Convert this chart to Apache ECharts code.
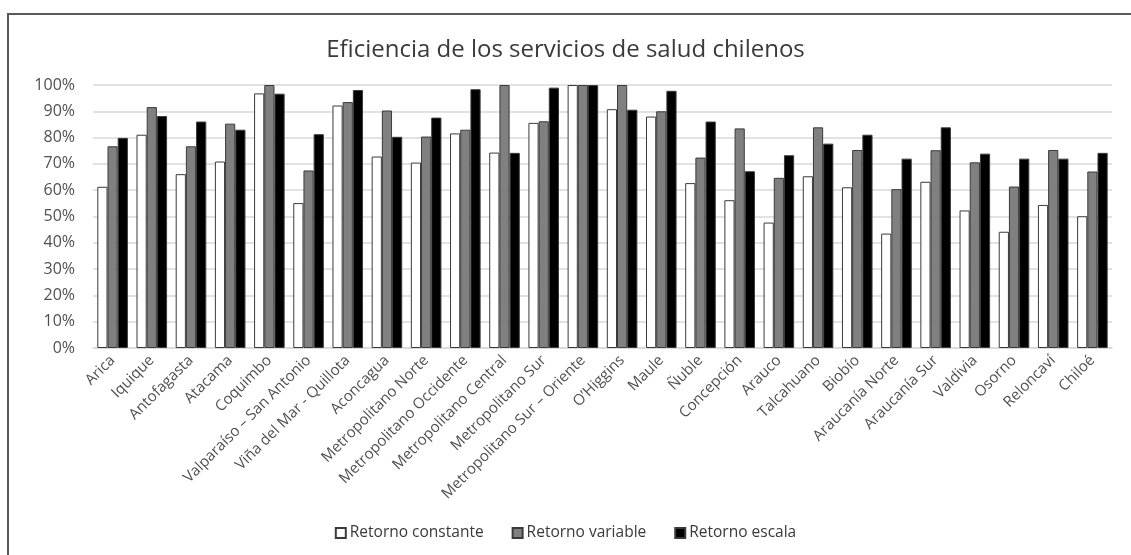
<!DOCTYPE html>
<html>
<head>
<meta charset="utf-8">
<title>Eficiencia de los servicios de salud chilenos</title>
<script src="https://cdn.jsdelivr.net/npm/echarts@6/dist/echarts.min.js"></script>
<style>
  html, body { margin: 0; padding: 0; background: #ffffff; }
  #chart { position: absolute; left: 0; top: 0; width: 1131px; height: 555px; }
  #frame {
    position: absolute; left: 7px; top: 13px; right: 0; bottom: 0;
    border-top: 2px solid #5a5a5a; border-left: 2px solid #5a5a5a;
    pointer-events: none;
  }
</style>
</head>
<body>
<div id="chart"></div>
<div id="frame"></div>
<script>
// Servicios de salud
const categories = [
  'Arica', 'Iquique', 'Antofagasta', 'Atacama', 'Coquimbo',
  'Valparaíso – San Antonio', 'Viña del Mar - Quillota', 'Aconcagua',
  'Metropolitano Norte', 'Metropolitano Occidente', 'Metropolitano Central',
  'Metropolitano Sur', 'Metropolitano Sur – Oriente', 'O’Higgins', 'Maule',
  'Ñuble', 'Concepción', 'Arauco', 'Talcahuano', 'Biobío', 'Araucanía Norte',
  'Araucanía Sur', 'Valdivia', 'Osorno', 'Reloncaví', 'Chiloé'
];

// Eficiencia (%) por tipo de retorno
const retornoConstante = [
  61.3, 81.1, 66.1, 70.9, 96.8, 55.1, 92.2, 72.8, 70.5, 81.6, 74.3, 85.6, 100,
  90.8, 88.0, 62.7, 56.2, 47.7, 65.3, 61.1, 43.5, 63.2, 52.3, 44.2, 54.4, 50.1
];
const retornoVariable = [
  76.7, 91.6, 76.7, 85.3, 100, 67.5, 93.5, 90.3, 80.4, 83.0, 100, 86.2, 100,
  100, 90.0, 72.4, 83.5, 64.7, 83.9, 75.3, 60.4, 75.2, 70.6, 61.4, 75.3, 67.1
];
const retornoEscala = [
  79.9, 88.2, 86.1, 83.0, 96.7, 81.3, 98.1, 80.3, 87.6, 98.4, 74.2, 99.0, 100,
  90.6, 97.8, 86.1, 67.2, 73.3, 77.7, 81.1, 72.0, 83.9, 73.9, 72.0, 72.0, 74.2
];

const seriesNames = ['Retorno constante', 'Retorno variable', 'Retorno escala'];
const yTicks = { min: 0, max: 100, interval: 10 };

const FONT = '"Open Sans", "Liberation Sans", sans-serif';
const TEXT = '#505050';

const chart = echarts.init(document.getElementById('chart'), null, { renderer: 'canvas' });

function barSeries(name, data, fill) {
  return {
    name: name,
    type: 'bar',
    data: data,
    barGap: '0%',
    barCategoryGap: '22%',
    itemStyle: { color: fill, borderColor: '#3a3a3a', borderWidth: 1 },
    emphasis: { disabled: true }
  };
}

chart.setOption({
  animation: false,
  backgroundColor: '#ffffff',
  title: {
    text: 'Eficiencia de los servicios de salud chilenos',
    left: 'center',
    top: 33,
    textStyle: { fontFamily: FONT, fontSize: 24, fontWeight: 'normal', color: '#3a3a3a' }
  },
  legend: {
    bottom: 9,
    left: 'center',
    itemWidth: 10,
    itemHeight: 10,
    itemGap: 28,
    icon: 'rect',
    textStyle: { fontFamily: FONT, fontSize: 15.5, color: '#3a3a3a', padding: [0, 0, 0, -1] },
    data: seriesNames
  },
  grid: { left: 93, right: 19, top: 85, bottom: 207, containLabel: false },
  xAxis: {
    type: 'category',
    data: categories,
    axisLine: { show: true, lineStyle: { color: '#d9d9d9', width: 1.5 } },
    axisTick: { show: false },
    axisLabel: {
      interval: 0,
      rotate: 45,
      margin: 10,
      fontFamily: FONT,
      fontSize: 15,
      color: TEXT
    }
  },
  yAxis: {
    type: 'value',
    min: yTicks.min,
    max: yTicks.max,
    interval: yTicks.interval,
    axisLine: { show: false },
    axisTick: { show: false },
    splitLine: { lineStyle: { color: '#d9d9d9', width: 1.5 } },
    axisLabel: {
      formatter: '{value}%',
      margin: 18,
      fontFamily: FONT,
      fontSize: 16,
      color: TEXT
    }
  },
  series: [
    barSeries(seriesNames[0], retornoConstante, '#ffffff'),
    barSeries(seriesNames[1], retornoVariable, '#808080'),
    barSeries(seriesNames[2], retornoEscala, '#000000')
  ]
});
</script>
</body>
</html>
